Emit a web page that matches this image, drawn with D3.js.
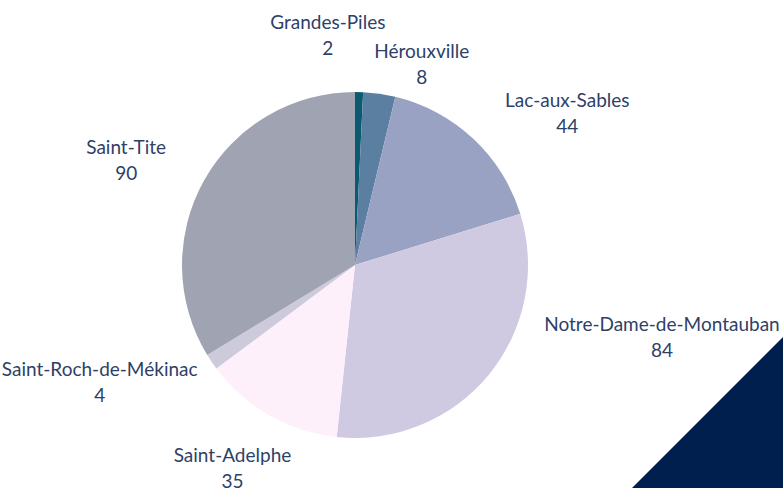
<!DOCTYPE html>
<html>
<head>
<meta charset="utf-8">
<script src="https://cdn.jsdelivr.net/npm/d3@7"></script>
<style>
  body { margin: 0; background: #fff; }
  svg text { font-family: Lato, "Liberation Sans", sans-serif; fill: #2e3f68; }
</style>
</head>
<body>
<svg id="chart" width="783" height="488"></svg>
<script>
// données
const villes = ["Grandes-Piles", "Hérouxville", "Lac-aux-Sables", "Notre-Dame-de-Montauban",
                "Saint-Adelphe", "Saint-Roch-de-Mékinac", "Saint-Tite"];
const valeurs = [2, 8, 44, 84, 35, 4, 90];
const couleurs = ["#0b5a70", "#5b7fa0", "#9aa2c4", "#d0c9e2", "#fdf0fb", "#cdcbdb", "#a0a3b1"];

// décalages des étiquettes (par rapport à l'ellipse de base)
const decalages = [[-34, -20], [26, 7], [14, 0], [83, -65], [21, 17], [-15, -4], [24, -3]];

const svg = d3.select("#chart");
const cx = 355, cy = 265, r = 173;

// coin décoratif en bas à droite
svg.append("path")
    .attr("d", "M632,488 L783,337 L783,488 Z")
    .attr("fill", "#001e4e");

const pie = d3.pie().sort(null).value(d => d);
const arcs = pie(valeurs);
const arc = d3.arc().innerRadius(0).outerRadius(r);

const g = svg.append("g").attr("transform", `translate(${cx},${cy})`);

g.selectAll("path")
    .data(arcs)
    .enter()
    .append("path")
    .attr("d", arc)
    .attr("fill", (d, i) => couleurs[i]);

// étiquettes
const rx = 290, ry = 212;
const lab = g.selectAll("text")
    .data(arcs)
    .enter()
    .append("text")
    .attr("text-anchor", "middle")
    .style("font-size", "19px")
    .attr("transform", (d, i) => {
        const a = (d.startAngle + d.endAngle) / 2;
        const x = rx * Math.sin(a) + decalages[i][0];
        const y = -ry * Math.cos(a) + decalages[i][1];
        return `translate(${x},${y})`;
    });

lab.append("tspan").attr("x", 0).attr("dy", "-0.2em").text((d, i) => villes[i]);
lab.append("tspan").attr("x", 0).attr("dy", "1.37em").text(d => d.value);
</script>
</body>
</html>
